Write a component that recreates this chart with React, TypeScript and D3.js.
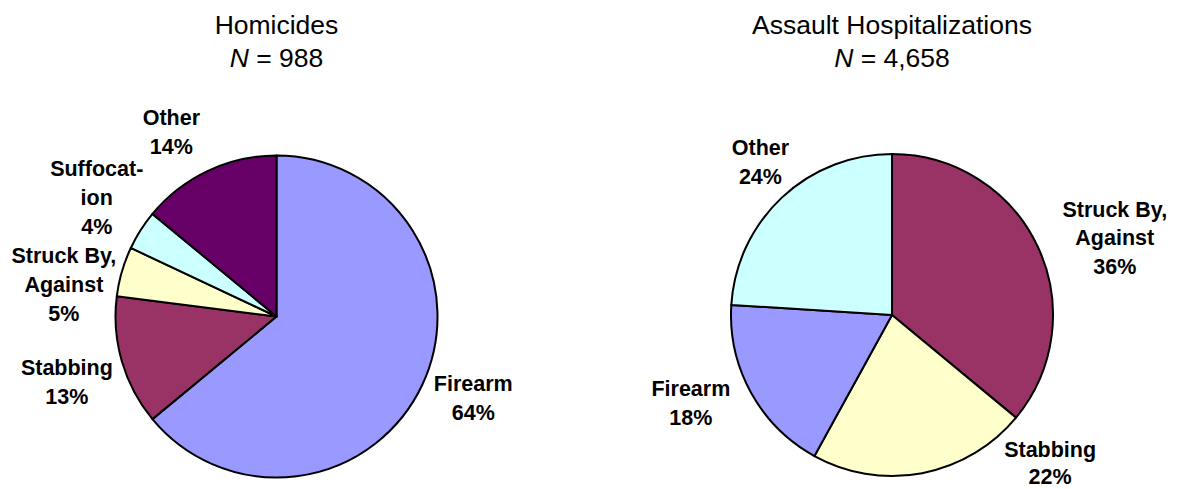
import React from "react";
import * as d3 from "d3";

const homicideCategories = ["Firearm", "Stabbing", "Struck By, Against", "Suffocation", "Other"];
const homicideValues = [64, 13, 5, 4, 14];
const homicideLabelLines = [["Firearm", "64%"], ["Stabbing", "13%"], ["Struck By,", "Against", "5%"], ["Suffocat-", "ion", "4%"], ["Other", "14%"]];
const homicideColors = ["#9999FF", "#993366", "#FFFFCC", "#CCFFFF", "#660066"];

const hospCategories = ["Struck By, Against", "Stabbing", "Firearm", "Other"];
const hospValues = [36, 22, 18, 24];
const hospLabelLines = [["Struck By,", "Against", "36%"], ["Stabbing", "22%"], ["Firearm", "18%"], ["Other", "24%"]];
const hospColors = ["#993366", "#FFFFCC", "#9999FF", "#CCFFFF"];

const W = 1179;
const H = 489;
const FONT = "'Liberation Sans', Arial, Helvetica, sans-serif";

type PieProps = {
  cx: number;
  cy: number;
  r: number;
  title: string;
  n: string;
  categories: string[];
  values: number[];
  colors: string[];
  labels: string[][];
  offsets: [number, number][];
  lineHeights: number[];
};

function Pie({ cx, cy, r, title, n, categories, values, colors, labels, offsets, lineHeights }: PieProps) {
  const pie = d3.pie<number>().sort(null).value((d) => d).startAngle(0).endAngle(2 * Math.PI);
  const arcs = pie(values);
  const arc = d3.arc<d3.PieArcDatum<number>>().innerRadius(0).outerRadius(r);
  const labelR = r * 1.33;
  const labelArc = d3.arc<d3.PieArcDatum<number>>().innerRadius(labelR).outerRadius(labelR);
  const fs = 21.5;
  return (
    <g>
      <text x={cx} y={34} textAnchor="middle" fontFamily={FONT} fontSize={26.5} fill="#000">
        {title}
      </text>
      <text x={cx} y={67} textAnchor="middle" fontFamily={FONT} fontSize={26.5} fill="#000">
        <tspan fontStyle="italic">N</tspan>
        <tspan>{" = " + n}</tspan>
      </text>
      <g transform={`translate(${cx},${cy})`}>
        {arcs.map((a, i) => (
          <path key={categories[i]} d={arc(a) || ""} fill={colors[i]} stroke="#000" strokeWidth={2} strokeLinejoin="round" />
        ))}
        {arcs.map((a, i) => {
          const [x, y] = labelArc.centroid(a);
          const lx = x + offsets[i][0];
          const ly = y + offsets[i][1];
          const lines = labels[i];
          const lh = lineHeights[i];
          const first = ly - ((lines.length - 1) * lh) / 2 + fs * 0.35;
          return (
            <text key={"l" + i} textAnchor="middle" fontFamily={FONT} fontWeight="bold" fontSize={fs} fill="#000">
              {lines.map((t, j) => (
                <tspan key={j} x={lx} y={first + j * lh}>
                  {t}
                </tspan>
              ))}
            </text>
          );
        })}
      </g>
    </g>
  );
}

export default function App() {
  return (
    <svg width={W} height={H} style={{ position: "absolute", left: 0, top: 0, background: "#fff" }}>
      <rect width={W} height={H} fill="#fff" />
      <Pie
        cx={276.5}
        cy={316.5}
        r={161}
        title="Homicides"
        n="988"
        categories={homicideCategories}
        values={homicideValues}
        colors={homicideColors}
        labels={homicideLabelLines}
        offsets={[[3, -10], [-4, 6], [-7, 28], [1, -4], [-14, 9]]}
        lineHeights={[29, 29, 29, 29, 29]}
      />
      <Pie
        cx={892}
        cy={315}
        r={161}
        title="Assault Hospitalizations"
        n="4,658"
        categories={hospCategories}
        values={hospValues}
        colors={hospColors}
        labels={hospLabelLines}
        offsets={[[29, 14], [118, -62], [-13.5, -15], [15, 3]]}
        lineHeights={[28.5, 27, 28.5, 28.5]}
      />
    </svg>
  );
}
